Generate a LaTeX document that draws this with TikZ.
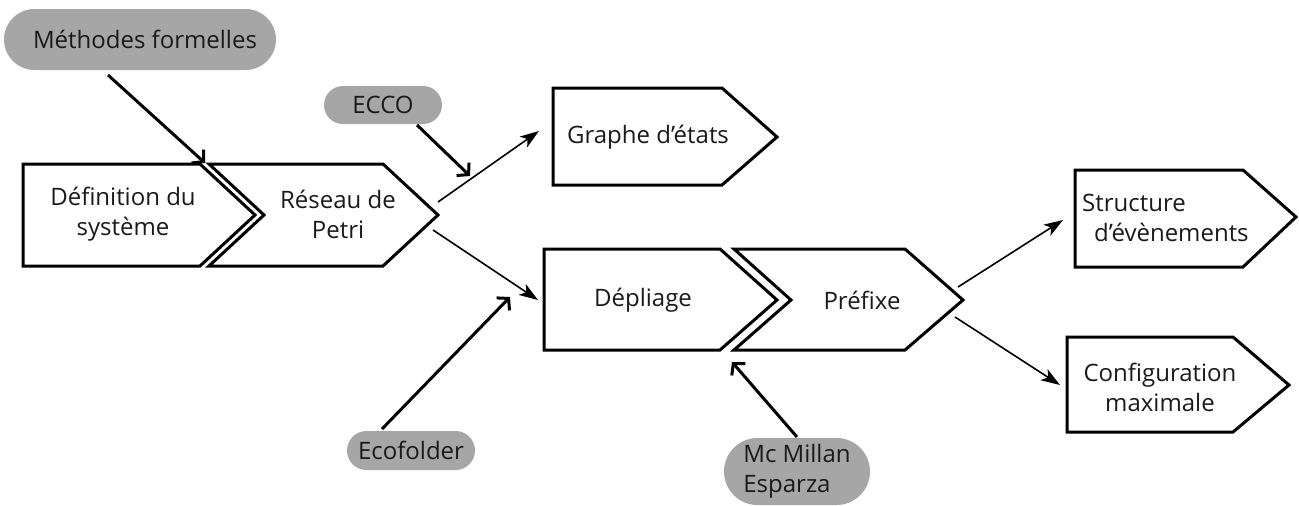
\documentclass[tikz,border=0pt]{standalone}
\usepackage{fontspec}
\setmainfont{Open Sans}
\usetikzlibrary{arrows.meta,shapes.misc}
\definecolor{pillgrey}{HTML}{A6A6A6}
\definecolor{ink}{HTML}{1A1A1A}
\tikzset{
  chev/.style={draw=black, line width=3pt, line join=miter},
  txt/.style={font=\fontsize{24}{30}\selectfont, text=ink, align=center, inner sep=0pt},
  pill/.style={rounded rectangle, fill=pillgrey, inner sep=0pt, font=\fontsize{24}{30}\selectfont, text=ink, align=center},
  thinarrow/.style={line width=1.6pt, -{Stealth[length=19pt,width=13pt,inset=5pt]}},
  thickarrow/.style={line width=3pt, -{Straight Barb[length=8pt,width=18pt]}},
}
\begin{document}
\begin{tikzpicture}[x=1pt,y=-1pt]
\useasboundingbox (0,0) rectangle (1299,506);
% chevrons
\draw[chev] (23,164) -- (200,164) -- (255,215) -- (200,266) -- (23,266) -- cycle;
\draw[chev] (209,164) -- (383,164) -- (438,215) -- (383,266) -- (209,266) -- (264,215) -- cycle;
\draw[chev] (553,88) -- (722,88) -- (777,137) -- (722,185) -- (553,185) -- cycle;
\draw[chev] (544,249) -- (720,249) -- (777,300) -- (720,350) -- (544,350) -- cycle;
\draw[chev] (734,249) -- (905,249) -- (963,300) -- (905,350) -- (734,350) -- (791,300) -- cycle;
\draw[chev] (1075,170) -- (1243,170) -- (1296,217) -- (1243,267) -- (1075,267) -- cycle;
\draw[chev] (1067,337) -- (1233,337) -- (1289,385) -- (1233,432) -- (1067,432) -- cycle;
% chevron texts
\node[txt] (def) at (123,214) {Définition du\\système};
\node[txt] (petri) at (338,214) {Réseau de\\Petri};
\node[txt] (graphe) at (648,137) {Graphe d’états};
\node[txt] (depl) at (643,300) {Dépliage};
\node[txt] (pref) at (862,300) {Préfixe};
\node[txt, align=left, anchor=west] (struct) at (1082,218) {Structure\\\hspace{12pt}d’évènements};
\node[txt] (config) at (1160,387) {Configuration\\maximale};
% pills
\node[pill, minimum width=272pt, minimum height=61pt] (meth) at (140,39.5) {\hspace{10pt}Méthodes formelles};
\node[pill, minimum width=118pt, minimum height=38pt] (ecco) at (383,105) {ECCO};
\node[pill, minimum width=128pt, minimum height=39pt] (eco) at (411,450.5) {Ecofolder};
\node[pill, minimum width=146pt, minimum height=67pt, align=left] (mcm) at (797,471.5) {Mc Millan\\Esparza};
% connector endpoints
\coordinate (m0) at (108,75);   \coordinate (m1) at (205,163);
\coordinate (e0) at (417,125);  \coordinate (e1) at (470,176);
\coordinate (p0) at (438,202);  \coordinate (p1) at (539,131);
\coordinate (q0) at (433,230);  \coordinate (q1) at (538,300);
\coordinate (f0) at (382,429);  \coordinate (f1) at (510,297);
\coordinate (r0) at (958,287);  \coordinate (r1) at (1063,220);
\coordinate (s0) at (955,317);  \coordinate (s1) at (1060,385);
\coordinate (c0) at (797,437);  \coordinate (c1) at (732,362);
% connectors
\draw[thickarrow] (m0) -- (m1);
\draw[thickarrow] (e0) -- (e1);
\draw[thinarrow] (p0) -- (p1);
\draw[thinarrow] (q0) -- (q1);
\draw[thickarrow] (f0) -- (f1);
\draw[thinarrow] (r0) -- (r1);
\draw[thinarrow] (s0) -- (s1);
\draw[thickarrow] (c0) -- (c1);
\end{tikzpicture}
\end{document}
